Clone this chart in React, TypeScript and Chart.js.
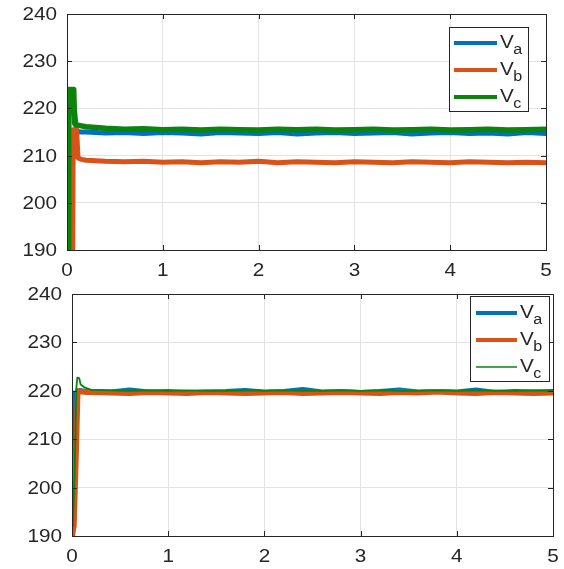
import React, { useEffect, useRef } from 'react';
import { Chart, registerables } from 'chart.js';
Chart.register(...registerables);

const yTickValues = [190, 200, 210, 220, 230, 240];
const xTickValues = [0, 1, 2, 3, 4, 5];
const seriesSubscripts = ['a', 'b', 'c'];
const seriesColors = ['#0072BD', '#D95319', '#0A840A'];

const steadyTime = [0.2, 0.4, 0.6, 0.8, 1.0, 1.2, 1.4, 1.6, 1.8, 2.0, 2.2, 2.4, 2.6, 2.8, 3.0, 3.2, 3.4, 3.6, 3.8, 4.0, 4.2, 4.4, 4.6, 4.8, 5.0];

// Top plot transients
const topVaTime = [0, 0.012, 0.018, 0.08, 0.1, 0.14];
const topVaStart = [190, 190, 219, 219.2, 215.2, 215.0];
const topVbTime = [0, 0.06, 0.065, 0.1, 0.115, 0.15];
const topVbStart = [190, 190, 215.5, 215.5, 209.5, 209.2];
const topVcTime = [0, 0.012, 0.018, 0.07, 0.08, 0.1, 0.15];
const topVcStart = [190, 190, 224, 224, 216.8, 216.5, 216.3];
// Top plot steady
const topVaSteady = [215.0, 214.8, 214.9, 214.7, 214.9, 214.8, 214.6, 214.9, 214.8, 214.7, 214.9, 214.6, 214.8, 214.9, 214.7, 214.8, 214.9, 214.6, 214.8, 214.9, 214.7, 214.8, 214.6, 214.9, 214.7];
const topVbSteady = [209.0, 208.8, 208.7, 208.8, 208.6, 208.7, 208.5, 208.7, 208.6, 208.8, 208.5, 208.7, 208.6, 208.5, 208.7, 208.6, 208.5, 208.7, 208.6, 208.5, 208.7, 208.6, 208.5, 208.6, 208.5];
const topVcSteady = [216.1, 215.8, 215.6, 215.7, 215.5, 215.6, 215.4, 215.6, 215.5, 215.4, 215.6, 215.5, 215.6, 215.4, 215.5, 215.6, 215.4, 215.5, 215.6, 215.4, 215.5, 215.6, 215.4, 215.5, 215.6];

// Bottom plot transients
const botVaTime = [0, 0.01, 0.03, 0.08, 0.15];
const botVaStart = [190, 211, 219.5, 220.1, 219.9];
const botVbTime = [0, 0.02, 0.04, 0.06, 0.1, 0.15];
const botVbStart = [190, 192, 205, 220, 219.8, 219.7];
const botVcTime = [0.01, 0.03, 0.045, 0.055, 0.075, 0.09, 0.13];
const botVcStart = [192, 205, 220.5, 222.7, 222.6, 221.3, 220.7];
// Bottom plot steady
const botVaSteady = [219.9, 219.8, 220.2, 219.8, 219.9, 219.7, 219.8, 219.9, 220.1, 219.8, 219.9, 220.3, 219.8, 219.9, 219.7, 219.9, 220.2, 219.8, 219.9, 219.8, 220.2, 219.7, 219.9, 219.8, 219.9];
const botVbSteady = [219.7, 219.6, 219.5, 219.7, 219.6, 219.5, 219.7, 219.6, 219.5, 219.6, 219.7, 219.5, 219.6, 219.7, 219.6, 219.5, 219.7, 219.6, 219.8, 219.6, 219.5, 219.7, 219.6, 219.5, 219.6];
const botVcSteady = [220.2, 220.1, 220.0, 220.1, 220.0, 220.1, 220.0, 220.0, 220.1, 220.0, 220.1, 220.0, 220.0, 220.1, 220.0, 220.1, 220.0, 220.0, 220.1, 220.0, 220.1, 220.0, 220.0, 220.1, 220.0];

const toPoints = (t: number[], v: number[], st: number[], sv: number[]) => {
  const pts = t.map((x, i) => ({ x, y: v[i] }));
  return pts.concat(st.map((x, i) => ({ x, y: sv[i] })));
};

const TEXT = '#262626';
const FONT = '"Liberation Sans", Arial, sans-serif';
const STRETCH = 1.15;

type PlotCfg = {
  top: number;
  height: number;
  left: number;
  right: number;
  plotTop: number;
  plotBottom: number;
  series: { x: number; y: number }[][];
  widths: number[];
  legendWidths: number[];
  legend: { x: number; y: number; w: number; h: number; rows: number[]; lineX0: number; lineX1: number; textX: number };
};

const topCfg: PlotCfg = {
  top: 0,
  height: 280,
  left: 67,
  right: 546,
  plotTop: 14,
  plotBottom: 250,
  series: [
    toPoints(topVaTime, topVaStart, steadyTime, topVaSteady),
    toPoints(topVbTime, topVbStart, steadyTime, topVbSteady),
    toPoints(topVcTime, topVcStart, steadyTime, topVcSteady),
  ],
  widths: [5, 5, 5.5],
  legendWidths: [4, 4, 4],
  legend: { x: 449, y: 27, w: 79, h: 84, rows: [43, 70, 97], lineX0: 454, lineX1: 497, textX: 500 },
};

const botCfg: PlotCfg = {
  top: 280,
  height: 289,
  left: 72,
  right: 553,
  plotTop: 14,
  plotBottom: 256,
  series: [
    toPoints(botVaTime, botVaStart, steadyTime, botVaSteady),
    toPoints(botVbTime, botVbStart, steadyTime, botVbSteady),
    toPoints(botVcTime, botVcStart, steadyTime, botVcSteady),
  ],
  widths: [4.5, 5.5, 1.8],
  legendWidths: [4, 4, 1.5],
  legend: { x: 470, y: 16, w: 79, h: 85, rows: [33, 60, 87], lineX0: 476, lineX1: 517, textX: 520 },
};

function makePlugin(cfg: PlotCfg) {
  return {
    id: 'matlabDecor',
    afterDraw(chart: any) {
      const ctx = chart.ctx as CanvasRenderingContext2D;
      const a = chart.chartArea;
      const xs = chart.scales.x;
      const ys = chart.scales.y;
      ctx.save();
      ctx.strokeStyle = TEXT;
      ctx.lineWidth = 1;
      ctx.strokeRect(Math.round(a.left) + 0.5, Math.round(a.top) + 0.5, Math.round(a.right - a.left), Math.round(a.bottom - a.top));
      ctx.beginPath();
      yTickValues.forEach((v) => {
        const y = Math.round(ys.getPixelForValue(v)) + 0.5;
        ctx.moveTo(a.left, y); ctx.lineTo(a.left + 5, y);
        ctx.moveTo(a.right, y); ctx.lineTo(a.right - 5, y);
      });
      xTickValues.forEach((v) => {
        const x = Math.round(xs.getPixelForValue(v)) + 0.5;
        ctx.moveTo(x, a.bottom); ctx.lineTo(x, a.bottom - 5);
        ctx.moveTo(x, a.top); ctx.lineTo(x, a.top + 5);
      });
      ctx.stroke();
      ctx.fillStyle = TEXT;
      ctx.font = `18px ${FONT}`;
      ctx.textAlign = 'right';
      ctx.textBaseline = 'middle';
      yTickValues.forEach((v) => {
        const y = ys.getPixelForValue(v);
        ctx.save();
        ctx.translate(a.left - 10, y + 1);
        ctx.scale(STRETCH, 1);
        ctx.fillText(String(v), 0, 0);
        ctx.restore();
      });
      ctx.textAlign = 'center';
      ctx.textBaseline = 'top';
      xTickValues.forEach((v) => {
        const x = xs.getPixelForValue(v);
        ctx.save();
        ctx.translate(x, a.bottom + 12);
        ctx.scale(STRETCH, 1);
        ctx.fillText(String(v), 0, 0);
        ctx.restore();
      });
      const L = cfg.legend;
      ctx.fillStyle = '#ffffff';
      ctx.fillRect(L.x, L.y, L.w, L.h);
      ctx.strokeStyle = TEXT;
      ctx.lineWidth = 1;
      ctx.strokeRect(L.x + 0.5, L.y + 0.5, L.w, L.h);
      L.rows.forEach((ry, i) => {
        ctx.strokeStyle = seriesColors[i];
        ctx.lineWidth = cfg.legendWidths[i];
        ctx.beginPath();
        ctx.moveTo(L.lineX0, ry);
        ctx.lineTo(L.lineX1, ry);
        ctx.stroke();
        ctx.fillStyle = TEXT;
        ctx.textAlign = 'left';
        ctx.textBaseline = 'alphabetic';
        ctx.save();
        ctx.translate(L.textX, ry + 5);
        ctx.scale(STRETCH, 1);
        ctx.font = `18px ${FONT}`;
        ctx.fillText('V', 0, 0);
        ctx.font = `14px ${FONT}`;
        ctx.fillText(seriesSubscripts[i], 11.5, 6);
        ctx.restore();
      });
      ctx.restore();
    },
  };
}

function Plot({ cfg }: { cfg: PlotCfg }) {
  const ref = useRef<HTMLCanvasElement | null>(null);
  useEffect(() => {
    if (!ref.current) return;
    const order = [3, 2, 1];
    const chart = new Chart(ref.current, {
      type: 'line',
      data: {
        datasets: cfg.series.map((pts, i) => ({
          label: 'V' + seriesSubscripts[i],
          data: pts,
          borderColor: seriesColors[i],
          backgroundColor: seriesColors[i],
          borderWidth: cfg.widths[i],
          pointRadius: 0,
          tension: 0,
          order: order[i],
          borderJoinStyle: 'round' as const,
          borderCapStyle: 'round' as const,
        })),
      },
      options: {
        animation: false,
        responsive: false,
        maintainAspectRatio: false,
        layout: { padding: { left: 0, top: cfg.plotTop, right: 564 - cfg.right, bottom: 0 } },
        plugins: { legend: { display: false }, tooltip: { enabled: false } },
        scales: {
          x: {
            type: 'linear',
            min: 0,
            max: 5,
            ticks: { stepSize: 1, display: false },
            grid: { color: '#e3e3e3', drawTicks: false },
            border: { display: false },
            afterFit: (s: any) => { s.height = cfg.height - cfg.plotBottom; },
          },
          y: {
            type: 'linear',
            min: 190,
            max: 240,
            ticks: { stepSize: 10, display: false },
            grid: { color: '#e3e3e3', drawTicks: false },
            border: { display: false },
            afterFit: (s: any) => { s.width = cfg.left; },
          },
        },
      },
      plugins: [makePlugin(cfg)],
    } as any);
    return () => chart.destroy();
  }, [cfg]);
  return (
    <canvas
      ref={ref}
      width={564}
      height={cfg.height}
      style={{ position: 'absolute', left: 0, top: cfg.top, width: 564, height: cfg.height }}
    />
  );
}

export default function App() {
  return (
    <div style={{ position: 'fixed', left: 0, top: 0, width: 564, height: 569, background: '#ffffff' }}>
      <Plot cfg={topCfg} />
      <Plot cfg={botCfg} />
    </div>
  );
}
